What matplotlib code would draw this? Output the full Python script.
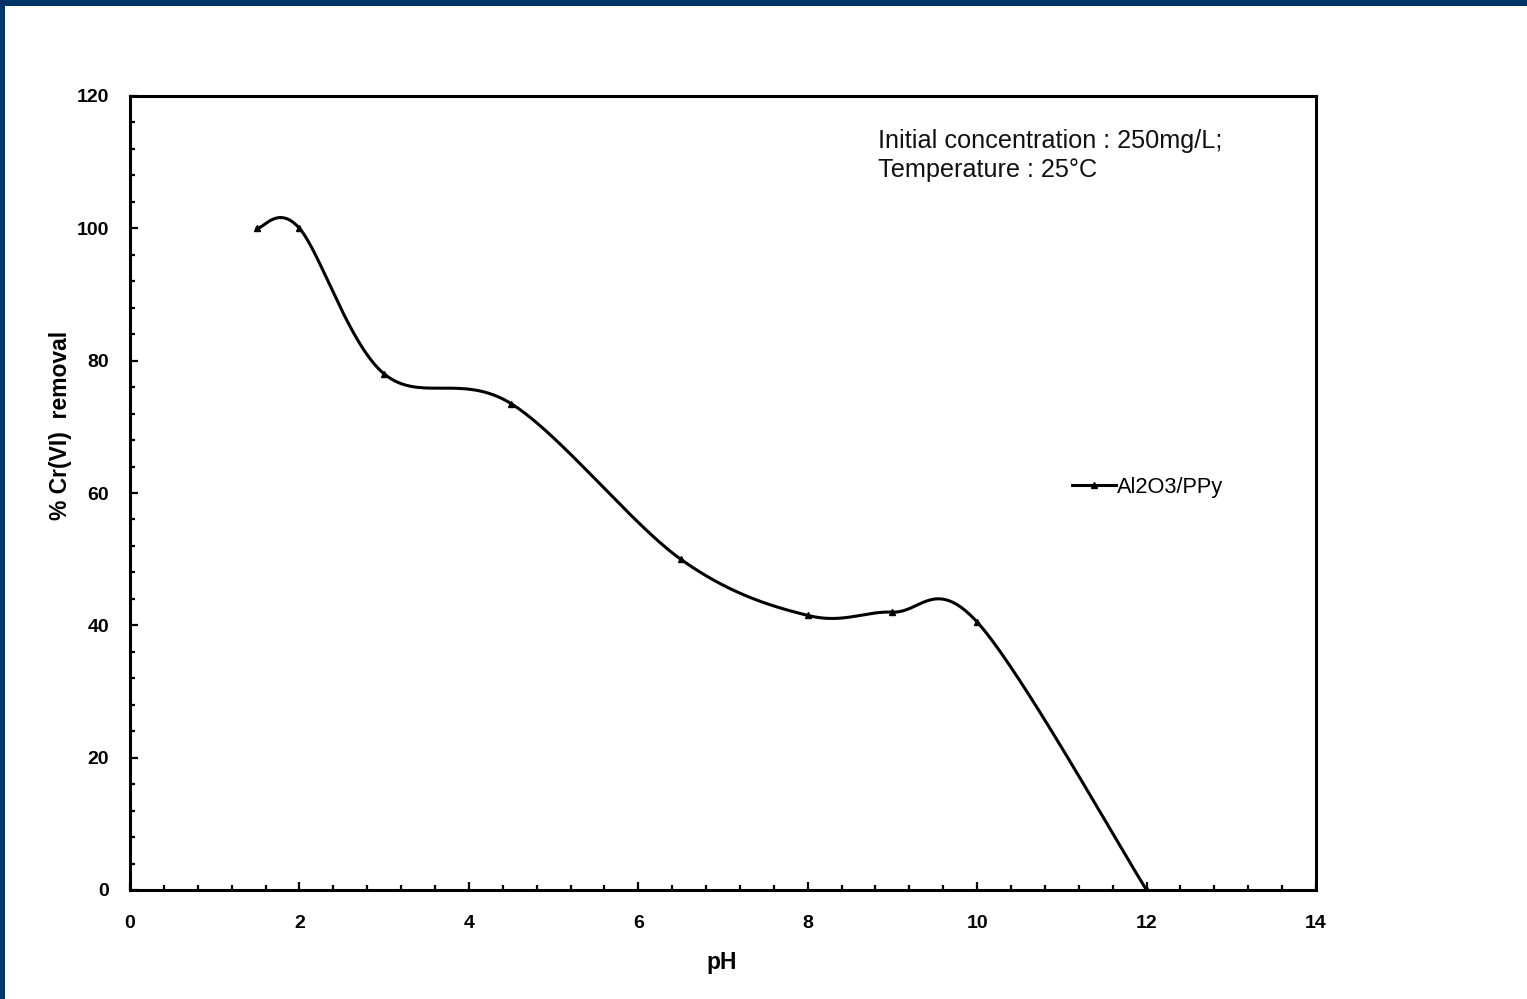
import numpy as np
import matplotlib
matplotlib.use("Agg")
import matplotlib.pyplot as plt
from matplotlib.patches import Rectangle
from matplotlib.ticker import MultipleLocator

plt.rcParams['font.family'] = ['Liberation Sans', 'DejaVu Sans']

# Data
ph = [1.5, 2, 3, 4.5, 6.5, 8, 9, 10, 12]
removal = [100, 100, 78, 73.5, 50, 41.5, 42, 40.5, 0]
series_label = "Al2O3/PPy"
x_label = "pH"
y_label = "% Cr(VI)  removal"
note = "Initial concentration : 250mg/L;\nTemperature : 25\u00b0C"

W, H = 1527, 999
fig = plt.figure(figsize=(W / 100, H / 100), dpi=100)
fig.patch.set_facecolor('white')

# dark blue frame (top and left)
navy = '#003366'
fig.patches.append(Rectangle((0, 1 - 6 / H), 1, 6 / H, transform=fig.transFigure,
                             facecolor=navy, edgecolor='none', zorder=0))
fig.patches.append(Rectangle((0, 0), 5 / W, 1, transform=fig.transFigure,
                             facecolor=navy, edgecolor='none', zorder=0))

ax = fig.add_axes([130 / W, 1 - 890 / H, (1316 - 130) / W, (890 - 96) / H])


def smooth(xs, ys, n=60):
    P = np.column_stack([xs, ys]).astype(float)
    out = []
    m = len(P)
    for i in range(m - 1):
        p0 = P[max(i - 1, 0)]
        p1 = P[i]
        p2 = P[i + 1]
        p3 = P[min(i + 2, m - 1)]
        c1 = p1 + (p2 - p0) / 6.0
        c2 = p2 - (p3 - p1) / 6.0
        t = np.linspace(0, 1, n)[:, None]
        seg = ((1 - t) ** 3) * p1 + 3 * ((1 - t) ** 2) * t * c1 + 3 * (1 - t) * t ** 2 * c2 + t ** 3 * p2
        out.append(seg if i == 0 else seg[1:])
    out = np.vstack(out)
    return out[:, 0], out[:, 1]


sx, sy = smooth(ph, removal)
ax.plot(sx, sy, color='black', lw=2.2, zorder=3)
ax.plot(ph, removal, linestyle='none', marker='^', color='black', markersize=5, zorder=4)
# legend proxy
ax.plot([], [], color='black', lw=2.2, marker='^', markersize=5, label=series_label)

ax.set_xlim(0, 14)
ax.set_ylim(0, 120)
ax.xaxis.set_major_locator(MultipleLocator(2))
ax.xaxis.set_minor_locator(MultipleLocator(0.4))
ax.yaxis.set_major_locator(MultipleLocator(20))
ax.yaxis.set_minor_locator(MultipleLocator(4))

for sp in ax.spines.values():
    sp.set_linewidth(2.2)
    sp.set_color('black')

ax.tick_params(which='major', direction='in', length=6, width=1.6, labelsize=14, pad=15)
ax.tick_params(which='minor', direction='in', length=3.5, width=1.6)
ax.tick_params(axis='x', which='major', pad=18)
ax.tick_params(right=False, top=False, which='both')
for lab in ax.get_xticklabels() + ax.get_yticklabels():
    lab.set_fontweight('bold')

ax.set_xlabel(x_label, fontsize=16.5, fontweight='bold')
ax.xaxis.set_label_coords((722 - 130) / 1186, (890 - 963) / 794)
ax.xaxis.label.set_va('center')
ax.set_ylabel(y_label, fontsize=16.5, fontweight='bold')
ax.yaxis.set_label_coords((60 - 130) / 1186, (890 - 425) / 794)
ax.yaxis.label.set_va('center')
ax.yaxis.label.set_rotation_mode('anchor')

ax.text((878 - 130) / 1186, (890 - 129) / 794, note, transform=ax.transAxes,
        fontsize=18.2, ha='left', va='top', linespacing=1.25, color='#111111')

leg = ax.legend(loc='center left', bbox_to_anchor=((1072 - 130) / 1186, (890 - 487) / 794),
                frameon=False, fontsize=15.7, handlelength=2.0, handletextpad=0.05,
                borderpad=0, borderaxespad=0)

fig.savefig('out.png', dpi=100, facecolor='white')
